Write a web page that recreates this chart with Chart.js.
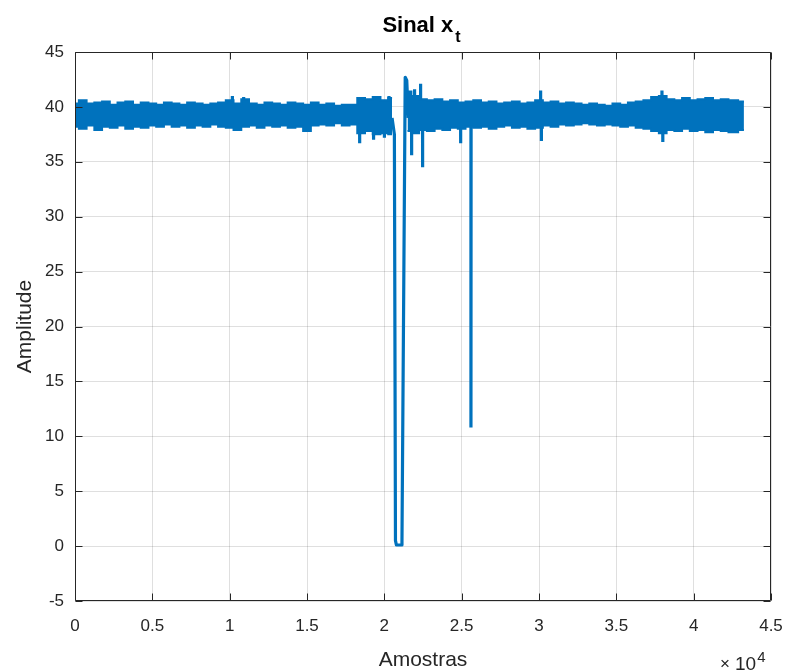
<!DOCTYPE html>
<html>
<head>
<meta charset="utf-8">
<script src="https://cdn.jsdelivr.net/npm/chart.js@4.4.0/dist/chart.umd.min.js"></script>
<style>
  html, body { margin: 0; padding: 0; background: #fff; }
  #wrap { width: 785px; height: 671px; }
</style>
</head>
<body>
<div id="wrap"><canvas id="chart"></canvas></div>
<script>
// noise band of the signal, read as upper / lower envelope every 500 samples
const bandX = [
  0, 500, 1000, 1500, 2000, 2500, 3000, 3500, 4000, 4500,
  5000, 5500, 6000, 6500, 7000, 7500, 8000, 8500, 9000, 9500,
  10000, 10500, 11000, 11500, 12000, 12500, 13000, 13500, 14000, 14500,
  15000, 15500, 16000, 16500, 17000, 17500, 18000, 18500, 19000, 19500,
  20000, 20500, 21000, 21500, 22000, 22500, 23000, 23500, 24000, 24500,
  25000, 25500, 26000, 26500, 27000, 27500, 28000, 28500, 29000, 29500,
  30000, 30500, 31000, 31500, 32000, 32500, 33000, 33500, 34000, 34500,
  35000, 35500, 36000, 36500, 37000, 37500, 38000, 38500, 39000, 39500,
  40000, 40500, 41000, 41500, 42000, 42500, 43250
];
const bandHi = [
  40.3, 40.6, 40.3, 40.4, 40.5, 40.2, 40.4, 40.5, 40.2, 40.4,
  40.3, 40.2, 40.4, 40.3, 40.2, 40.4, 40.3, 40.2, 40.3, 40.4,
  40.6, 40.3, 40.7, 40.3, 40.2, 40.4, 40.3, 40.2, 40.4, 40.3,
  40.2, 40.4, 40.2, 40.3, 40.1, 40.2, 40.2, 40.8, 40.7, 40.9,
  40.6, 40.8, null, 41.4, 41.0, 40.7, 40.6, 40.7, 40.5, 40.6,
  40.4, 40.5, 40.6, 40.4, 40.5, 40.3, 40.4, 40.5, 40.3, 40.4,
  40.6, 40.4, 40.5, 40.3, 40.4, 40.3, 40.2, 40.3, 40.2, 40.1,
  40.3, 40.2, 40.4, 40.5, 40.6, 40.9, 41.0, 40.7, 40.6, 40.8,
  40.6, 40.7, 40.8, 40.6, 40.7, 40.6, 40.5
];
const bandLo = [
  38.2, 38.0, 38.3, 37.9, 38.2, 38.1, 38.3, 38.0, 38.2, 38.1,
  38.3, 38.2, 38.4, 38.2, 38.3, 38.1, 38.3, 38.2, 38.4, 38.2,
  38.1, 37.9, 38.2, 38.3, 38.1, 38.3, 38.2, 38.3, 38.1, 38.2,
  37.8, 38.3, 38.4, 38.3, 38.5, 38.3, 38.4, 37.6, 37.8, 37.5,
  37.6, 37.5, null, 37.8, 37.6, 37.9, 37.8, 38.0, 37.9, 38.1,
  38.0, 38.2, 38.1, 38.2, 38.0, 38.2, 38.3, 38.1, 38.2, 38.0,
  38.1, 38.3, 38.2, 38.4, 38.3, 38.4, 38.5, 38.4, 38.3, 38.4,
  38.3, 38.2, 38.3, 38.1, 38.0, 37.8, 37.6, 37.9, 37.8, 38.0,
  37.8, 37.9, 37.7, 37.9, 37.8, 37.7, 37.9
];

// drop-out around 2.1e4 samples
const dipX = [20500, 20650, 20720, 20780, 21080, 21140, 21350, 21450, 21550];
const dipY = [39.0, 37.5, 0.5, 0.1, 0.1, 0.5, 42.7, 42.4, 39.0];

// isolated spikes: sample position and extreme value
const spikeX = [10170, 10900, 18400, 19300, 20000, 20300, 21760, 21950, 22340, 22470, 24930, 25600, 30100, 30150, 37950, 38000];
const spikeY = [41.0, 40.9, 36.7, 37.0, 37.2, 41.0, 35.6, 41.6, 42.1, 34.5, 36.7, 10.8, 41.5, 36.9, 41.5, 36.8];
const spikeBase = 39.2;

const xTicks = [0, 0.5, 1, 1.5, 2, 2.5, 3, 3.5, 4, 4.5];
const yTicks = [-5, 0, 5, 10, 15, 20, 25, 30, 35, 40, 45];

const BLUE = '#0072BD';
const INK = '#262626';
const FONT = '"Liberation Sans", Arial, Helvetica, sans-serif';

const upper = bandX.map((s, i) => ({ x: s, y: bandHi[i] }));
const lower = bandX.map((s, i) => ({ x: s, y: bandLo[i] }));
const dip = dipX.map((s, i) => ({ x: s, y: dipY[i] }));
const spikes = [];
spikeX.forEach((s, i) => {
  spikes.push({ x: s, y: spikeBase }, { x: s, y: spikeY[i] }, { x: s + 10, y: spikeBase }, { x: s + 10, y: null });
});

// frame, inward ticks, title, axis labels and the x10^4 exponent
const decor = {
  id: 'decor',
  afterDraw(chart) {
    const { ctx, chartArea: a, scales } = chart;
    const L = Math.round(a.left) + 0.5, R = Math.round(a.right) - 0.5;
    const T = Math.round(a.top) + 0.5, B = Math.round(a.bottom) - 0.5;
    ctx.save();
    ctx.strokeStyle = INK;
    ctx.lineWidth = 1;
    ctx.beginPath();
    ctx.rect(L, T, R - L, B - T);
    xTicks.forEach(t => {
      const px = Math.round(scales.x.getPixelForValue(t * 10000)) + 0.5;
      ctx.moveTo(px, B); ctx.lineTo(px, B - 7);
      ctx.moveTo(px, T); ctx.lineTo(px, T + 7);
    });
    yTicks.forEach(t => {
      const py = Math.round(scales.y.getPixelForValue(t)) + 0.5;
      ctx.moveTo(L, py); ctx.lineTo(L + 7, py);
      ctx.moveTo(R, py); ctx.lineTo(R - 7, py);
    });
    ctx.stroke();

    ctx.fillStyle = '#000';
    ctx.textBaseline = 'alphabetic';
    ctx.font = 'bold 22px ' + FONT;
    const main = 'Sinal x';
    const w1 = ctx.measureText(main).width;
    ctx.font = 'bold 16px ' + FONT;
    const w2 = ctx.measureText('t').width;
    const cx = (a.left + a.right) / 2;
    const x0 = cx - (w1 + w2 + 1) / 2 - 2;
    ctx.font = 'bold 22px ' + FONT;
    ctx.textAlign = 'left';
    ctx.fillText(main, x0, 32);
    ctx.font = 'bold 16px ' + FONT;
    ctx.fillText('t', x0 + w1 + 2, 42);

    ctx.fillStyle = INK;
    ctx.font = '21px ' + FONT;
    ctx.textAlign = 'center';
    ctx.fillText('Amostras', cx, 666);
    ctx.save();
    ctx.translate(31, (a.top + a.bottom) / 2);
    ctx.rotate(-Math.PI / 2);
    ctx.fillText('Amplitude', 0, 0);
    ctx.restore();

    ctx.textAlign = 'left';
    ctx.font = '17px ' + FONT;
    ctx.fillText('\u00d7', 720, 669);
    ctx.font = '19px ' + FONT;
    ctx.fillText('10', 735, 670);
    const w10 = ctx.measureText('10').width;
    ctx.font = '15px ' + FONT;
    ctx.fillText('4', 735 + w10 + 1, 662);
    ctx.restore();
  }
};

new Chart(document.getElementById('chart'), {
  type: 'line',
  data: {
    datasets: [
      { data: upper, borderColor: BLUE, borderWidth: 2, fill: false, spanGaps: false, stepped: 'middle' },
      { data: lower, borderColor: BLUE, borderWidth: 2, backgroundColor: BLUE, fill: '-1', spanGaps: false, stepped: 'middle' },
      { data: dip, borderColor: BLUE, borderWidth: 3.2, fill: false, borderJoinStyle: 'round' },
      { data: spikes, borderColor: BLUE, borderWidth: 3.2, fill: false, spanGaps: false }
    ]
  },
  options: {
    responsive: true,
    maintainAspectRatio: false,
    devicePixelRatio: 1,
    animation: false,
    events: [],
    layout: { padding: { left: 0, right: 14, top: 52, bottom: 0 } },
    elements: { point: { radius: 0 }, line: { tension: 0 } },
    plugins: { legend: { display: false }, tooltip: { enabled: false }, title: { display: false } },
    scales: {
      x: {
        type: 'linear',
        min: 0, max: 45000,
        afterBuildTicks: s => { s.ticks = xTicks.map(v => ({ value: v * 10000 })); },
        afterFit: s => { s.height = 70; s.paddingLeft = 0; s.paddingRight = 0; },
        border: { display: false },
        grid: { color: 'rgba(38,38,38,0.15)', drawTicks: false },
        ticks: {
          color: INK, padding: 15, maxRotation: 0,
          font: { family: FONT, size: 17 },
          callback: v => String(v / 10000)
        }
      },
      y: {
        min: -5, max: 45,
        afterBuildTicks: s => { s.ticks = yTicks.map(v => ({ value: v })); },
        afterFit: s => { s.width = 75; s.paddingTop = 0; s.paddingBottom = 0; },
        border: { display: false },
        grid: { color: 'rgba(38,38,38,0.15)', drawTicks: false },
        ticks: {
          color: INK, padding: 11,
          font: { family: FONT, size: 17 },
          callback: v => String(v)
        }
      }
    }
  },
  plugins: [decor]
});
</script>
</body>
</html>
